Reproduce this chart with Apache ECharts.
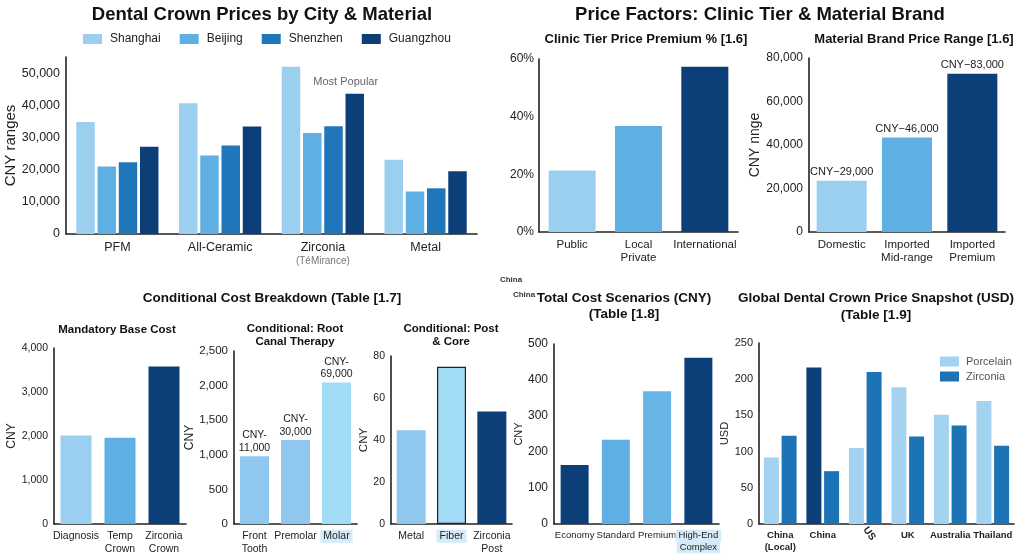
<!DOCTYPE html>
<html><head><meta charset="utf-8">
<script src="https://cdn.jsdelivr.net/npm/echarts@6/dist/echarts.min.js"></script>
<style>html,body{margin:0;padding:0;background:#fff}#c{width:1024px;height:559px}</style>
</head><body><div id="c"></div><script>
// ---------- DATA ----------
const materials = ['PFM', 'All-Ceramic', 'Zirconia', 'Metal'];
const cities = ['Shanghai', 'Beijing', 'Shenzhen', 'Guangzhou'];
const shanghai = [34800, 40600, 52000, 23100];
const beijing = [21000, 24400, 31400, 13200];
const shenzhen = [22300, 27500, 33500, 14200];
const guangzhou = [27100, 33400, 43600, 19500];

const tiers = ['Public', 'Local\nPrivate', 'International'];
const tierPremium = [21.3, 36.8, 57.3];

const brands = ['Domestic', 'Imported\nMid-range', 'Imported\nPremium'];
const brandPrice = [23600, 43500, 72800];
const brandLabels = ['CNY\u221229,000', 'CNY\u221246,000', 'CNY\u221283,000'];

const baseItems = ['Diagnosis', 'Temp\nCrown', 'Zirconia\nCrown'];
const baseCost = [2010, 1960, 3580];

const rootItems = ['Front\nTooth', 'Premolar', 'Molar'];
const rootCost = [980, 1215, 2045];
const rootLabels = ['CNY-\n11,000', 'CNY-\n30,000', 'CNY-\n69,000'];

const postItems = ['Metal', 'Fiber', 'Zirconia\nPost'];
const postCost = [44.6, 74.9, 53.6];

const scenarios = ['Economy', 'Standard', 'Premium', 'High-End\nComplex'];
const scenarioCost = [164, 234, 369, 462];

const countries = ['China\n(Local)', 'China', 'US', 'UK', 'Australia', 'Thailand'];
const porcelain = [92, 216, 105, 189, 151, 170];
const zirconia = [122, 73, 210, 121, 136, 108];

// ---------- STYLES ----------
const FONT = 'Liberation Sans, Arial, sans-serif';
const LIGHT = '#9bcff0', MID = '#5eb0e4', DARK = '#1f77b9', NAVY = '#0c3e77', PALE = '#a2dbf5', SKY = '#8fc7ee';
const cityColors = [LIGHT, MID, DARK, NAVY];
const tierColors = [LIGHT, MID, NAVY];
const brandColors = [LIGHT, MID, NAVY];
const baseColors = [LIGHT, MID, NAVY];
const rootColors = [SKY, SKY, PALE];
const postColors = [SKY, PALE, NAVY];
const scenarioColors = [NAVY, MID, '#66b5e6', NAVY];
const porcelainColors = ['#a3d3f0', NAVY, '#a3d3f0', '#a3d3f0', '#a3d3f0', '#a3d3f0'];
const AX = '#222';

function yAx(gi, max, interval, name, gap, fs, nfs, extra) {
  return Object.assign({
    gridIndex: gi, type: 'value', min: 0, max: max, interval: interval,
    name: name, nameLocation: 'middle', nameGap: gap, nameRotate: 90,
    nameTextStyle: { fontSize: nfs, color: AX, fontFamily: FONT },
    axisLine: { show: true, lineStyle: { color: AX, width: 1.6 } },
    axisTick: { show: false }, splitLine: { show: false },
    axisLabel: { color: AX, fontSize: fs, margin: 6, fontFamily: FONT }
  }, extra || {});
}
function xAx(gi, data, fs, labelExtra) {
  return {
    gridIndex: gi, type: 'category', data: data,
    axisTick: { show: false },
    axisLine: { lineStyle: { color: AX, width: 1.6 } },
    axisLabel: Object.assign({ interval: 0, color: AX, fontSize: fs, margin: 6, lineHeight: fs + 2, fontFamily: FONT }, labelExtra || {})
  };
}
function colored(vals, cols) { return vals.map((v, i) => ({ value: v, itemStyle: { color: cols[i] } })); }

const hlRich = (fs) => ({ hl: { backgroundColor: '#d5ecf8', padding: [1, 3], fontSize: fs, color: AX, fontFamily: FONT, lineHeight: fs + 2 } });

function T(text, x, y, fs, lh, extra) {
  return { text: text, left: x, top: y, textAlign: 'center', padding: 0,
    textStyle: Object.assign({ fontSize: fs, fontWeight: 'bold', color: '#111', fontFamily: FONT, lineHeight: lh || fs + 2 }, extra || {}) };
}

const option = {
  animation: false,
  backgroundColor: '#fff',
  title: [
    T('Dental Crown Prices by City & Material', 262, 4, 18.5, 21),
    T('Price Factors: Clinic Tier & Material Brand', 760, 4, 18.5, 21),
    T('Clinic Tier Price Premium % [1.6]', 646, 32, 13),
    T('Material Brand Price Range [1.6]', 914, 32, 13),
    T('Conditional Cost Breakdown (Table [1.7]', 272, 291, 13.5),
    T('Mandatory Base Cost', 117, 323, 11.5),
    T('Conditional: Root\nCanal Therapy', 295, 322, 11.5, 13),
    T('Conditional: Post\n& Core', 451, 322, 11.5, 13),
    T('Total Cost Scenarios (CNY)\n(Table [1.8]', 624, 290, 13.5, 16),
    T('Global Dental Crown Price Snapshot (USD)\n(Table [1.9]', 876, 290, 13.5, 17),
    T('China', 511, 275, 8, 9, { color: '#333' }),
    T('China', 524, 290, 8, 9, { color: '#333' })
  ],
  legend: [
    { data: cities, left: 83, top: 33, padding: 0, itemWidth: 19, itemHeight: 10, itemGap: 19, icon: 'rect',
      textStyle: { fontSize: 12, color: AX, fontFamily: FONT, padding: [0, 0, 0, 3] } },
    { data: ['Porcelain', 'Zirconia'], orient: 'vertical', left: 940, top: 356, padding: 0, itemWidth: 19, itemHeight: 10, itemGap: 4, icon: 'rect',
      textStyle: { fontSize: 11, color: '#555', fontFamily: FONT, padding: [0, 0, 0, 2] } }
  ],
  grid: [
    { left: 66, top: 57, width: 411, height: 177 },
    { left: 539, top: 59, width: 199, height: 173 },
    { left: 809, top: 58, width: 196, height: 174 },
    { left: 54, top: 348, width: 132, height: 176 },
    { left: 234, top: 351, width: 123, height: 173 },
    { left: 391, top: 356, width: 121, height: 168 },
    { left: 554, top: 344, width: 165, height: 180 },
    { left: 759, top: 343, width: 255, height: 181 }
  ],
  xAxis: [
    xAx(0, materials, 12.5, {
      formatter: v => v === 'Zirconia' ? 'Zirconia\n{sub|(TéMirance)}' : v,
      rich: { sub: { fontSize: 10, color: '#777', lineHeight: 14, fontFamily: FONT } }
    }),
    xAx(1, tiers, 11.5),
    xAx(2, brands, 11.5),
    xAx(3, baseItems, 10.5),
    xAx(4, rootItems, 10.5, { formatter: v => v === 'Molar' ? '{hl|Molar}' : v, rich: hlRich(10.5) }),
    xAx(5, postItems, 10.5, { formatter: v => v === 'Fiber' ? '{hl|Fiber}' : v, rich: hlRich(10.5) }),
    xAx(6, scenarios, 9.5, { formatter: v => v.indexOf('High-End') === 0 ? v.split('\n').map(s => '{hl|' + s + '}').join('\n') : v, rich: hlRich(9.5) }),
    xAx(7, countries, 9.5, { fontWeight: 'bold', formatter: v => v === 'US' ? '' : v }),
    Object.assign(xAx(7, countries, 10, { fontWeight: 'bold', rotate: -55, margin: 4, formatter: v => v === 'US' ? v : '' }),
      { position: 'bottom', axisLine: { show: false } })
  ],
  yAxis: [
    yAx(0, 55000, 10000, 'CNY ranges', 44, 12.5, 15, { axisLabel: { color: AX, fontSize: 12.5, margin: 6, showMaxLabel: false, fontFamily: FONT } }),
    yAx(1, 60, 20, '', 0, 12.5, 12, { axisLabel: { color: AX, fontSize: 12, margin: 5, formatter: '{value}%', fontFamily: FONT } }),
    yAx(2, 80000, 20000, 'CNY nnge', 47, 12, 14),
    yAx(3, 4000, 1000, 'CNY', 35, 10.5, 12),
    yAx(4, 2500, 500, 'CNY', 32, 11.5, 12),
    yAx(5, 80, 20, 'CNY', 19, 10.5, 11.5),
    yAx(6, 500, 100, 'CNY', 27, 12, 11),
    yAx(7, 250, 50, 'USD', 24, 11, 11)
  ],
  series: [
    ...cities.map((c, i) => ({
      type: 'bar', name: c, xAxisIndex: 0, yAxisIndex: 0,
      data: [shanghai, beijing, shenzhen, guangzhou][i].map((v, j) => {
        const d = { value: v };
        if (c === 'Guangzhou' && materials[j] === 'Zirconia') {
          d.label = { show: true, position: 'top', formatter: 'Most Popular', offset: [-9, -1], color: '#666', fontSize: 11, fontFamily: FONT };
        }
        return d;
      }),
      itemStyle: { color: cityColors[i] }, barGap: '15%', barCategoryGap: '20%'
    })),
    { type: 'bar', xAxisIndex: 1, yAxisIndex: 1, data: colored(tierPremium, tierColors), barWidth: 47 },
    { type: 'bar', xAxisIndex: 2, yAxisIndex: 2, data: colored(brandPrice, brandColors), barWidth: 50,
      label: { show: true, position: 'top', distance: 3, formatter: p => brandLabels[p.dataIndex], color: AX, fontSize: 11, fontFamily: FONT } },
    { type: 'bar', xAxisIndex: 3, yAxisIndex: 3, data: colored(baseCost, baseColors), barWidth: 31 },
    { type: 'bar', xAxisIndex: 4, yAxisIndex: 4, data: colored(rootCost, rootColors), barWidth: 29,
      label: { show: true, position: 'top', distance: 2, formatter: p => rootLabels[p.dataIndex], color: AX, fontSize: 10.5, lineHeight: 12.5, fontFamily: FONT } },
    { type: 'bar', xAxisIndex: 5, yAxisIndex: 5, barWidth: 29,
      data: postCost.map((v, i) => ({ value: v, itemStyle: postItems[i] === 'Fiber' ? { color: postColors[i], borderColor: '#222', borderWidth: 1.2 } : { color: postColors[i] } })) },
    { type: 'bar', xAxisIndex: 6, yAxisIndex: 6, data: colored(scenarioCost, scenarioColors), barWidth: 28 },
    { type: 'bar', name: 'Porcelain', xAxisIndex: 7, yAxisIndex: 7, data: colored(porcelain, porcelainColors),
      itemStyle: { color: '#a3d3f0' }, barWidth: 15, barGap: '18%' },
    { type: 'bar', name: 'Zirconia', xAxisIndex: 7, yAxisIndex: 7, data: zirconia,
      itemStyle: { color: '#1c74b6' }, barWidth: 15, barGap: '18%' }
  ]
};
const chart = echarts.init(document.getElementById('c'), null, { renderer: 'canvas' });
chart.setOption(option);
</script></body></html>
